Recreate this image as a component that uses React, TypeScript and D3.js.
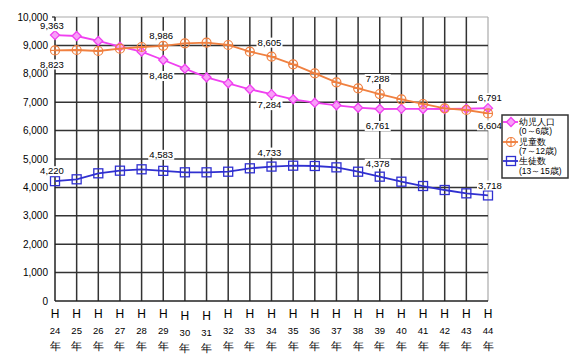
import React from "react";
import * as d3 from "d3";

// 年度 (H24〜H44)
const years = d3.range(24, 45).map(String);

// 幼児人口 (0～6歳)
const infants = [9363, 9331, 9155, 8955, 8780, 8486, 8180, 7876, 7665, 7454, 7284, 7101, 6983, 6890, 6806, 6761, 6765, 6762, 6760, 6770, 6791];
// 児童数 (7～12歳)
const children = [8823, 8838, 8803, 8885, 8944, 8986, 9072, 9096, 9014, 8779, 8605, 8333, 8017, 7700, 7489, 7288, 7101, 6937, 6785, 6725, 6604];
// 生徒数 (13～15歳)
const students = [4220, 4285, 4496, 4589, 4637, 4583, 4531, 4531, 4553, 4672, 4733, 4765, 4754, 4706, 4553, 4378, 4201, 4049, 3908, 3791, 3718];

const yTicks = d3.range(0, 10001, 1000);
const labelIdx = [0, 5, 10, 15, 20];

const W = 586, H = 362;
const m = { left: 55, right: 488, top: 17, bottom: 301 };

const series = [
  { name: "幼児人口", sub: "(0～6歳)", data: infants, color: "#f040f0", marker: "diamond", offs: [-9, 16, 11, 17, -10] },
  { name: "児童数", sub: "(7～12歳)", data: children, color: "#f08040", marker: "circle", offs: [14, -10, -14, -15, 12] },
  { name: "生徒数", sub: "(13～15歳)", data: students, color: "#3030d0", marker: "square", offs: [-10, -16, -14, -13, -10] },
];

const fmt = d3.format(",");

function Marker({ type, x, y, color }: { type: string; x: number; y: number; color: string }) {
  if (type === "diamond") {
    const r = 4.5;
    return <path d={`M${x},${y - r}L${x + r},${y}L${x},${y + r}L${x - r},${y}Z`} fill="#f8a0f8" stroke={color} strokeWidth={1.3} />;
  }
  if (type === "circle") {
    return (
      <g stroke={color} strokeWidth={1.2} fill="none">
        <circle cx={x} cy={y} r={4.5} />
        <line x1={x - 4.5} x2={x + 4.5} y1={y} y2={y} />
        <line x1={x} x2={x} y1={y - 4.5} y2={y + 4.5} />
      </g>
    );
  }
  return <rect x={x - 4.5} y={y - 4.5} width={9} height={9} fill="none" stroke={color} strokeWidth={1.3} />;
}

export default function App() {
  const x = d3.scalePoint().domain(years).range([m.left, m.right]);
  const y = d3.scaleLinear().domain([0, 10000]).range([m.bottom, m.top]);
  const line = d3.line<number>().x((_, i) => x(years[i])!).y((d) => y(d));
  const font = "'Liberation Sans', Arial, sans-serif";

  return (
    <svg width={W} height={H} style={{ position: "absolute", left: 0, top: 0 }} fontFamily={font}>
      <rect width={W} height={H} fill="#fff" />
      {/* grid */}
      <line x1={m.left} x2={m.right} y1={m.top} y2={m.top} stroke="#aaa" strokeWidth={1.2} />
      <line x1={m.right} x2={m.right} y1={m.top} y2={m.bottom} stroke="#aaa" strokeWidth={1.2} />
      {yTicks.slice(1, -1).map((t) => (
        <line key={t} x1={m.left} x2={m.right} y1={y(t)} y2={y(t)} stroke="#333" strokeWidth={1.5} />
      ))}
      {years.slice(1, -1).map((yr) => (
        <line key={yr} x1={x(yr)} x2={x(yr)} y1={m.top} y2={m.bottom} stroke="#333" strokeWidth={1.5} />
      ))}
      <line x1={m.left} x2={m.left} y1={m.top} y2={m.bottom} stroke="#222" strokeWidth={1.5} />
      <line x1={m.left} x2={m.right} y1={m.bottom} y2={m.bottom} stroke="#222" strokeWidth={1.5} />
      <line x1={m.left - 3} x2={m.left} y1={m.top} y2={m.top} stroke="#222" strokeWidth={1.2} />

      {/* y tick labels */}
      {yTicks.map((t) => (
        <text key={t} x={48} y={y(t)} dy="0.35em" textAnchor="end" fontSize={10} fill="#000">
          {fmt(t)}
        </text>
      ))}

      {/* x labels */}
      {years.map((yr) => {
        const off = yr === "30" || yr === "31" ? 2 : 0;
        const cx = x(yr)!;
        return (
          <g key={yr} textAnchor="middle" fill="#000">
            <text x={cx} y={318 + off} fontSize={12}>H</text>
            <text x={cx} y={334 + off} fontSize={9.5}>{yr}</text>
            <text x={cx} y={350 + off} fontSize={11}>年</text>
          </g>
        );
      })}

      {/* series */}
      {series.map((s) => (
        <g key={s.name}>
          <path d={line(s.data)!} fill="none" stroke={s.color} strokeWidth={1.8} />
          {s.data.map((v, i) => (
            <Marker key={i} type={s.marker} x={x(years[i])!} y={y(v)} color={s.color} />
          ))}
        </g>
      ))}

      {/* data labels */}
      {series.map((s) =>
        labelIdx.map((idx, k) => {
          const cx = x(years[idx])! + (idx === 0 ? -3 : idx === 20 ? 2 : -2);
          const cy = y(s.data[idx]) + s.offs[k];
          return (
            <g key={s.name + idx}>
              <rect x={cx - 13} y={cy - 5} width={26} height={10} fill="#fff" />
              <text x={cx} y={cy} dy="0.35em" textAnchor="middle" fontSize={9.5} fill="#000">
                {fmt(s.data[idx])}
              </text>
            </g>
          );
        })
      )}

      {/* legend */}
      <rect x={502} y={115} width={66} height={63} fill="#fff" stroke="#333" strokeWidth={1.5} />
      {series.map((s, i) => {
        const ly = [122, 142, 161][i];
        return (
          <g key={s.name}>
            <line x1={503} x2={518} y1={ly} y2={ly} stroke={s.color} strokeWidth={1.8} />
            <Marker type={s.marker} x={511} y={ly} color={s.color} />
            <text x={519} y={ly} dy="0.35em" fontSize={9} fill="#000">{s.name}</text>
            <text x={519} y={ly + (i === 2 ? 10 : 9)} dy="0.35em" fontSize={8.5} fill="#000">{s.sub}</text>
          </g>
        );
      })}
    </svg>
  );
}
